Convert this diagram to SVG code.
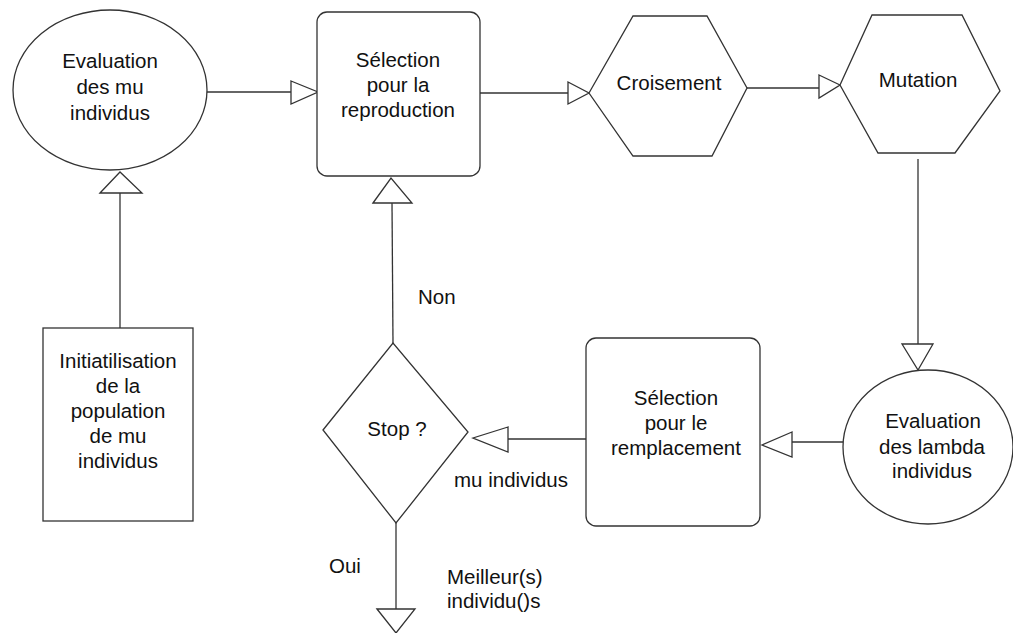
<svg xmlns="http://www.w3.org/2000/svg" width="1013" height="633" viewBox="0 0 1013 633">
<style>
.s{fill:#fff;stroke:#333;stroke-width:1.3}
.c{fill:none;stroke:#333;stroke-width:1.3}
.h{fill:#fff;stroke:#333;stroke-width:1.3;stroke-linejoin:miter}
text{font-family:"Liberation Sans",Arial,sans-serif;font-size:20.5px;fill:#111}
.m{text-anchor:middle}
</style>
<rect width="1013" height="633" fill="#fff"/>
<g id="connectors">
<line class="c" x1="207" y1="92" x2="291" y2="92"/>
<polygon class="h" points="291,81 318,92 291,104"/>
<line class="c" x1="480" y1="93" x2="568" y2="93"/>
<polygon class="h" points="568,82 589,93 568,104"/>
<line class="c" x1="747" y1="88" x2="819" y2="88"/>
<polygon class="h" points="819,75 840,85 819,98"/>
<line class="c" x1="918" y1="159" x2="918" y2="344"/>
<polygon class="h" points="902,344 918,370 933,344"/>
<line class="c" x1="843" y1="442" x2="792" y2="442"/>
<polygon class="h" points="792,432 762,445 792,457"/>
<line class="c" x1="586" y1="439" x2="508" y2="439"/>
<polygon class="h" points="508,427 473,438 508,452"/>
<line class="c" x1="393" y1="343" x2="392" y2="203"/>
<polygon class="h" points="373,203 391,178 412,203"/>
<line class="c" x1="396" y1="523" x2="396" y2="609"/>
<polygon class="h" points="377,609 396,633 415,609"/>
<line class="c" x1="120" y1="328" x2="120" y2="193"/>
<polygon class="h" points="100,193 120,172 142,193"/>
</g>
<g id="eval-mu">
<ellipse class="s" cx="110" cy="90" rx="97" ry="80"/>
<text class="m" x="110" y="68">Evaluation</text>
<text class="m" x="110" y="94">des mu</text>
<text class="m" x="110" y="120">individus</text>
</g>
<g id="selection-reproduction">
<rect class="s" x="317" y="12" width="163" height="164" rx="10"/>
<text class="m" x="398" y="67">Sélection</text>
<text class="m" x="398" y="92">pour la</text>
<text class="m" x="398" y="117">reproduction</text>
</g>
<g id="croisement">
<polygon class="s" points="589,93 633,16 707,16 747,88 712,156 633,156"/>
<text class="m" x="669" y="90">Croisement</text>
</g>
<g id="mutation">
<polygon class="s" points="840,85 872,15 962,15 1000,91 955,153 878,153"/>
<text class="m" x="918" y="87">Mutation</text>
</g>
<g id="eval-lambda">
<ellipse class="s" cx="928" cy="447" rx="85" ry="77"/>
<text class="m" x="933" y="428">Evaluation</text>
<text class="m" x="932" y="454">des lambda</text>
<text class="m" x="932" y="478">individus</text>
</g>
<g id="selection-remplacement">
<rect class="s" x="586" y="338" width="174" height="188" rx="10"/>
<text class="m" x="676" y="405">Sélection</text>
<text class="m" x="676" y="430">pour le</text>
<text class="m" x="676" y="455">remplacement</text>
</g>
<g id="stop">
<polygon class="s" points="323,430 393,343 468,432 396,523"/>
<text class="m" x="397" y="436">Stop ?</text>
</g>
<g id="initialisation">
<rect class="s" x="43" y="328" width="150" height="193"/>
<text class="m" x="118" y="368">Initiatilisation</text>
<text class="m" x="118" y="393">de la</text>
<text class="m" x="118" y="418">population</text>
<text class="m" x="118" y="443">de mu</text>
<text class="m" x="118" y="468">individus</text>
</g>
<g id="labels">
<text x="418" y="304">Non</text>
<text x="454" y="487">mu individus</text>
<text x="329" y="573">Oui</text>
<text x="447" y="584">Meilleur(s)</text>
<text x="447" y="608">individu()s</text>
</g>
</svg>
